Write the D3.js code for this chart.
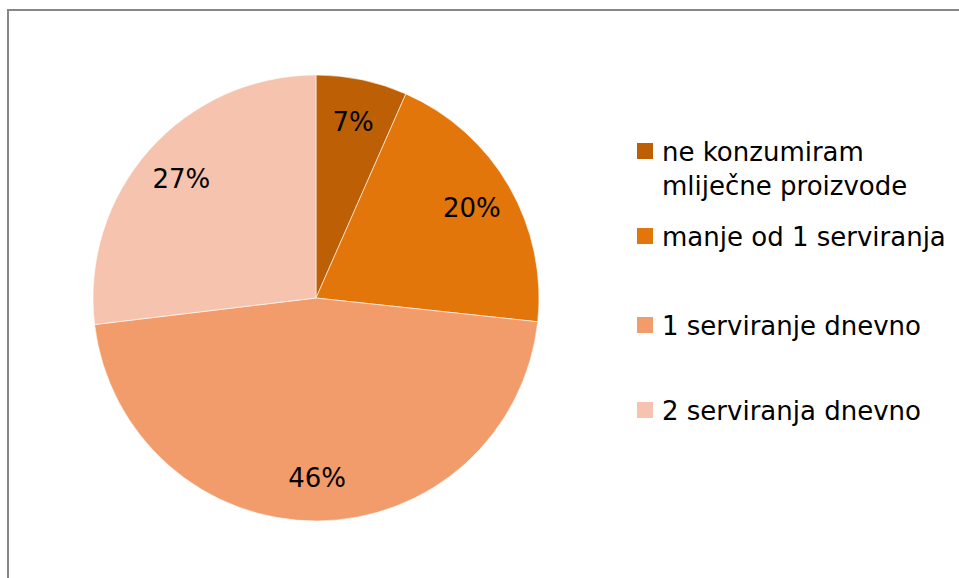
<!DOCTYPE html>
<html>
<head>
<meta charset="utf-8">
<script src="https://cdn.jsdelivr.net/npm/d3@7"></script>
<style>
  body { margin: 0; background: #fff; }
  svg text { font-family: Tahoma, "DejaVu Sans", sans-serif; fill: #000; }
</style>
</head>
<body>
<div id="chart"></div>
<script>
// categories and values (percent)
var categories = ["ne konzumiram mliječne proizvode", "manje od 1 serviranja", "1 serviranje dnevno", "2 serviranja dnevno"];
var legendLines = [["ne konzumiram", "mliječne proizvode"], ["manje od 1 serviranja"], ["1 serviranje dnevno"], ["2 serviranja dnevno"]];
var values = [6.6, 20.1, 46.4, 26.9];
var colors = ["#BD5F05", "#E2760A", "#F29B6B", "#F6C4AE"];

var svgWidth = 959;
var svgHeight = 578;

var svg = d3.select("#chart")
  .append("svg")
  .attr("width", svgWidth)
  .attr("height", svgHeight);

// outer frame (right and bottom run off the page)
svg.append("rect")
  .attr("x", 8)
  .attr("y", 10)
  .attr("width", 980)
  .attr("height", 600)
  .attr("fill", "none")
  .attr("stroke", "#878787")
  .attr("stroke-width", 2);

var cx = 316, cy = 298, radius = 223;

var data = categories.map(function (c, i) {
  return { name: c, value: values[i], color: colors[i] };
});

var pie = d3.pie()
  .value(d => d.value)
  .sort(null);

var arc = d3.arc().innerRadius(0).outerRadius(radius);
var labelArc = d3.arc().innerRadius(180).outerRadius(180);

var pieGroup = svg.append("g")
  .attr("transform", `translate(${cx}, ${cy})`);

var arcs = pie(data);

pieGroup.selectAll("path")
  .data(arcs)
  .enter()
  .append("path")
  .attr("d", arc)
  .attr("fill", d => d.data.color)
  .attr("stroke", "#fff")
  .attr("stroke-width", 0.6);

pieGroup.selectAll("text.pct")
  .data(arcs)
  .enter()
  .append("text")
  .attr("class", "pct")
  .attr("x", d => labelArc.centroid(d)[0])
  .attr("y", d => labelArc.centroid(d)[1])
  .attr("dy", "0.36em")
  .attr("text-anchor", "middle")
  .attr("font-size", "26px")
  .text(d => Math.round(d.data.value) + "%");

// legend
var legendTops = [143, 228, 317, 402];
var legend = svg.append("g");

legendLines.forEach(function (lines, i) {
  var top = legendTops[i];
  legend.append("rect")
    .attr("x", 637)
    .attr("y", top)
    .attr("width", 16)
    .attr("height", 16)
    .attr("fill", colors[i]);
  var t = legend.append("text")
    .attr("x", 662)
    .attr("y", top + 18)
    .attr("font-size", "26px");
  lines.forEach(function (line, j) {
    t.append("tspan")
      .attr("x", 662)
      .attr("dy", j === 0 ? 0 : 34)
      .text(line);
  });
});
</script>
</body>
</html>
